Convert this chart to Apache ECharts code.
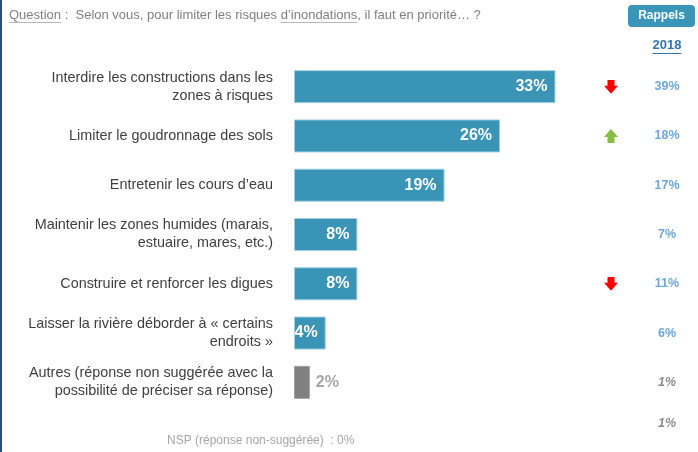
<!DOCTYPE html>
<html><head><meta charset="utf-8">
<script src="https://cdn.jsdelivr.net/npm/echarts@6/dist/echarts.min.js"></script>
<style>html,body{margin:0;padding:0;background:#fff}#c{width:698px;height:452px}</style>
</head><body><div id="c"></div>
<script>
var categories = [
  'Interdire les constructions dans les\nzones à risques',
  'Limiter le goudronnage des sols',
  'Entretenir les cours d\u2019eau',
  'Maintenir les zones humides (marais,\nestuaire, mares, etc.)',
  'Construire et renforcer les digues',
  'Laisser la rivière déborder à « certains\nendroits »',
  'Autres (réponse non suggérée avec la\npossibilité de préciser sa réponse)'
];
var values = [33, 26, 19, 8, 8, 4, 2];
var rappels2018 = ['39%', '18%', '17%', '7%', '11%', '6%', '1%'];
var trends = ['down', 'up', '', '', 'down', '', ''];
var otherIndex = 6;
var nspValue = '0%';
var nspRappel = '1%';

var FONT = '"Liberation Sans", Arial, sans-serif';
var BLUE = '#3994b6';

function arrowSvg(dir, color) {
  var p = dir === 'down'
    ? 'M4.5 0 H11.5 V6 H15 L8 14 L1 6 H4.5 Z'
    : 'M4.5 14 H11.5 V8 H15 L8 0 L1 8 H4.5 Z';
  return 'data:image/svg+xml;charset=utf-8,' + encodeURIComponent(
    '<svg xmlns="http://www.w3.org/2000/svg" width="16" height="14" viewBox="0 0 16 14"><path d="' + p + '" fill="' + color + '"/></svg>');
}

var mctx = document.createElement('canvas').getContext('2d');
function tw(txt, font) { mctx.font = font; return mctx.measureText(txt).width; }

var qFont = '13px ' + FONT;
var qParts = [
  {t: 'Question', u: true},
  {t: ' :  Selon vous, pour limiter les risques ', u: false},
  {t: 'd\u2019inondations', u: true},
  {t: ', il faut en priorité\u2026 ?', u: false}
];
var graphics = [];
var qx = 9, qy = 15;
qParts.forEach(function (p) {
  var w = tw(p.t, qFont);
  graphics.push({type: 'text', x: qx, y: qy, style: {text: p.t, font: qFont, fill: '#808080', textVerticalAlign: 'middle'}});
  if (p.u) graphics.push({type: 'rect', shape: {x: qx, y: qy + 7, width: w, height: 1}, style: {fill: '#b8b8b8'}});
  qx += w;
});
graphics.push({type: 'rect', shape: {x: 0, y: 0, width: 2, height: 452}, style: {fill: '#2f4a8a'}});
graphics.push({type: 'rect', shape: {x: 628, y: 5, width: 67, height: 22, r: 4}, style: {fill: '#3a96b8'}});
graphics.push({type: 'text', x: 661.5, y: 16, style: {text: 'Rappels', font: 'bold 12px ' + FONT, fill: '#fff', textAlign: 'center', textVerticalAlign: 'middle'}});
var yf = 'bold 13px ' + FONT;
var yw = tw('2018', yf);
graphics.push({type: 'text', x: 667, y: 45, style: {text: '2018', font: yf, fill: '#2e75b6', textAlign: 'center', textVerticalAlign: 'middle'}});
graphics.push({type: 'rect', shape: {x: 667 - yw / 2, y: 53, width: yw, height: 1}, style: {fill: '#2e75b6'}});
graphics.push({type: 'text', x: 167, y: 441, style: {text: 'NSP (réponse non-suggérée)  : ' + nspValue, font: '12px ' + FONT, fill: '#a6a6a6', textVerticalAlign: 'middle'}});
graphics.push({type: 'text', x: 667, y: 424, style: {text: nspRappel, font: 'italic bold 12.5px ' + FONT, fill: '#8c8c8c', textAlign: 'center', textVerticalAlign: 'middle'}});

var chart = echarts.init(document.getElementById('c'));
chart.setOption({
  animation: false,
  grid: {left: 294, right: 95, top: 62, bottom: 45},
  xAxis: {type: 'value', min: 0, max: 39, show: false},
  yAxis: [{
    type: 'category', data: categories, inverse: true,
    axisLine: {show: false}, axisTick: {show: false},
    axisLabel: {margin: 21, fontFamily: FONT, fontSize: 14.4, color: '#404040', lineHeight: 18, align: 'right'}
  }, {
    type: 'category', data: rappels2018, inverse: true, position: 'right',
    axisLine: {show: false}, axisTick: {show: false},
    axisLabel: {
      margin: 0, align: 'left',
      formatter: function (v, i) {
        var a = trends[i] === 'down' ? '{dn| }' : trends[i] === 'up' ? '{up| }' : '{no| }';
        return a + (i === otherIndex ? '{g|' + v + '}' : '{v|' + v + '}');
      },
      rich: {
        dn: {width: 16, height: 14, backgroundColor: {image: arrowSvg('down', '#ff0000')}},
        up: {width: 16, height: 14, backgroundColor: {image: arrowSvg('up', '#86bd42')}},
        no: {width: 16, height: 14},
        v: {width: 96, align: 'center', fontFamily: FONT, fontSize: 12.5, fontWeight: 'bold', color: '#6ea7d9'},
        g: {width: 96, align: 'center', fontFamily: FONT, fontSize: 12.5, fontWeight: 'bold', fontStyle: 'italic', color: '#8c8c8c'}
      }
    }
  }],
  series: [{
    type: 'bar', barWidth: 33, yAxisIndex: 0,
    data: values.map(function (v, i) {
      if (i === otherIndex) {
        return {value: v, itemStyle: {color: '#808080', borderColor: '#a0a0a0'},
          label: {position: 'right', distance: 6, color: '#a6a6a6'}};
      }
      return v;
    }),
    itemStyle: {color: BLUE, borderColor: '#9fd0e2', borderWidth: 1},
    label: {show: true, position: 'insideRight', distance: 8, formatter: '{c}%',
      fontFamily: FONT, fontSize: 16, fontWeight: 'bold', color: '#fff'}
  }],
  graphic: graphics
});
</script></body></html>
